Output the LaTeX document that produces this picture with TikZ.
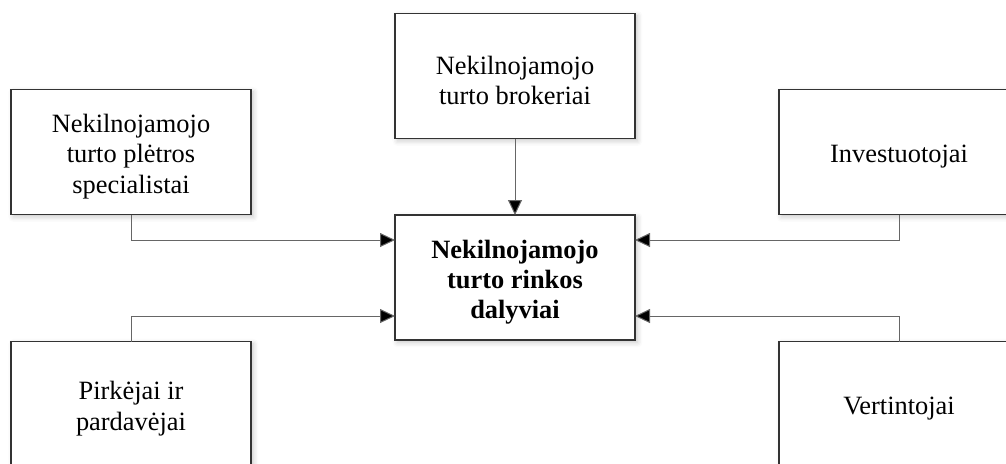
\documentclass[tikz,border=0pt]{standalone}
\usepackage{fontspec}
\setmainfont{Liberation Serif}
\usetikzlibrary{arrows.meta,shadows.blur}
\begin{document}
\begin{tikzpicture}[x=0.5pt,y=-0.5pt,
  box/.style={draw=black!80, line width=0.55pt, fill=white, rectangle,
    minimum width=120pt, minimum height=62.5pt, inner sep=0pt, outer sep=0pt,
    blur shadow={shadow xshift=1.2pt, shadow yshift=-1.2pt, shadow blur radius=2.5pt, shadow opacity=22},
    label={[txt]center:{#1}}},
  txt/.style={align=center, inner sep=0pt, yshift=-2.3pt, font=\fontsize{13.2pt}{15.1pt}\selectfont},
  conn/.style={draw=black!60, line width=0.5pt, -{Triangle[length=7.5pt,width=7pt,fill=black]}}]
\useasboundingbox (0,0) rectangle (1006,463);
\clip (0,0) rectangle (1006,463);
\node[box={Nekilnojamojo\\turto brokeriai}] (top) at (515,76) {};
\node[box={\bfseries Nekilnojamojo\\\bfseries turto rinkos\\\bfseries dalyviai}] (center) at (515,277.5) {};
\node[box={Nekilnojamojo\\turto plėtros\\specialistai}] (lt) at (131,152) {};
\node[box={Investuotojai}] (rt) at (899,152) {};
\node[box={Pirkėjai ir\\pardavėjai}] (lb) at (131,404) {};
\node[box={Vertintojai}] (rb) at (899,404) {};
\coordinate (cw1) at (395,240);
\coordinate (cw2) at (395,316);
\coordinate (ce1) at (635,240);
\coordinate (ce2) at (635,316);
\draw[conn] (top.south) -- (center.north);
\draw[conn] (lt.south) |- (cw1);
\draw[conn] (lb.north) |- (cw2);
\draw[conn] (rt.south) |- (ce1);
\draw[conn] (rb.north) |- (ce2);
\end{tikzpicture}
\end{document}
